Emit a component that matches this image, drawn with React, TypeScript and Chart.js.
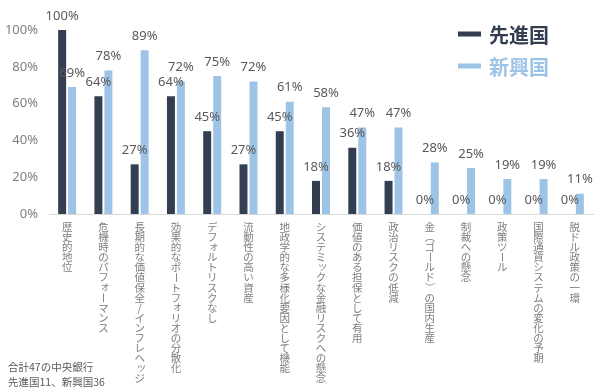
import React, { useEffect, useRef } from "react";
import { Chart, registerables } from "chart.js";

Chart.register(...registerables);

const categories: string[] = [
  "歴史的地位",
  "危機時のパフォーマンス",
  "長期的な価値保全/インフレヘッジ",
  "効果的なポートフォリオの分散化",
  "デフォルトリスクなし",
  "流動性の高い資産",
  "地政学的な多様化要因として機能",
  "システミックな金融リスクへの懸念",
  "価値のある担保として有用",
  "政治リスクの低減",
  "金（ゴールド）の国内生産",
  "制裁への懸念",
  "政策ツール",
  "国際通貨システムの変化の予期",
  "脱ドル政策の一環",
];

const advanced: number[] = [100, 64, 27, 64, 45, 27, 45, 18, 36, 18, 0, 0, 0, 0, 0];
const emerging: number[] = [69, 78, 89, 72, 75, 72, 61, 58, 47, 47, 28, 25, 19, 19, 11];

const seriesNames: string[] = ["先進国", "新興国"];
const yTicks: number[] = [0, 20, 40, 60, 80, 100];
const footnote: string[] = ["合計47の中央銀行", "先進国11、新興国36"];

const DARK = "#333F50";
const LIGHT = "#9DC3E6";
const NUM_FONT = "'Noto Sans', 'Noto Sans CJK JP', sans-serif";
const JP_FONT = "'Noto Sans CJK JP', sans-serif";

const ROTATE_CHARS = new Set(["ー", "（", "）", "〜", "－"]);
const SMALL_KANA = new Set("ァィゥェォッャュョヮぁぃぅぇぉっゃゅょ".split(""));

const overlayPlugin = {
  id: "overlay",
  afterDatasetsDraw(chart: any) {
    const ctx = chart.ctx;
    ctx.save();
    // data labels
    ctx.font = `13px ${NUM_FONT}`;
    ctx.fillStyle = "#595959";
    ctx.textAlign = "center";
    ctx.textBaseline = "middle";
    chart.data.datasets.forEach((ds: any, di: number) => {
      const meta = chart.getDatasetMeta(di);
      meta.data.forEach((el: any, i: number) => {
        ctx.fillText(`${ds.data[i]}%`, el.x, el.y - 14);
      });
    });

    // vertical category labels
    const xs = chart.scales.x;
    const top = xs.top;
    ctx.font = `10.5px ${JP_FONT}`;
    ctx.fillStyle = "#7f7f7f";
    categories.forEach((label, i) => {
      const x = xs.getPixelForValue(i);
      const chars = Array.from(label);
      chars.forEach((ch, k) => {
        const y = top + 13 + k * 10.1;
        if (ROTATE_CHARS.has(ch)) {
          ctx.save();
          ctx.translate(x, y);
          ctx.rotate(Math.PI / 2);
          ctx.fillText(ch, 0, 0);
          ctx.restore();
        } else if (SMALL_KANA.has(ch)) {
          ctx.fillText(ch, x + 1.5, y - 1.5);
        } else {
          ctx.fillText(ch, x, y);
        }
      });
    });

    // legend
    const legendRows = [
      { name: seriesNames[0], color: DARK, y: 34 },
      { name: seriesNames[1], color: LIGHT, y: 66 },
    ];
    legendRows.forEach((r) => {
      ctx.fillStyle = r.color;
      ctx.fillRect(458, r.y - 2.5, 23, 5);
      ctx.font = `bold 20px ${JP_FONT}`;
      ctx.textAlign = "left";
      ctx.textBaseline = "middle";
      ctx.fillText(r.name, 489, r.y + 1);
    });

    // footnote
    ctx.fillStyle = "#595959";
    ctx.font = `10.5px ${JP_FONT}`;
    ctx.textAlign = "left";
    footnote.forEach((line, i) => {
      ctx.fillText(line, 8, 367 + i * 15);
    });
    ctx.restore();
  },
};

export default function App() {
  const canvasRef = useRef<HTMLCanvasElement | null>(null);

  useEffect(() => {
    document.body.style.margin = "0";
    const canvas = canvasRef.current;
    if (!canvas) return;
    const chart = new Chart(canvas, {
      type: "bar",
      data: {
        labels: categories,
        datasets: [
          {
            label: seriesNames[0],
            data: advanced,
            backgroundColor: DARK,
            categoryPercentage: 0.55,
            barPercentage: 0.8,
          },
          {
            label: seriesNames[1],
            data: emerging,
            backgroundColor: LIGHT,
            categoryPercentage: 0.55,
            barPercentage: 0.8,
          },
        ],
      },
      options: {
        responsive: false,
        animation: false,
        devicePixelRatio: 1,
        layout: { padding: { top: 30, right: 7, left: 0, bottom: 0 } },
        plugins: {
          legend: { display: false },
          tooltip: { enabled: false },
        },
        scales: {
          x: {
            grid: { display: false },
            border: { display: true, color: "#d9d9d9", width: 1 },
            ticks: { display: false },
            afterFit: (scale: any) => {
              scale.height = 175;
            },
          },
          y: {
            min: 0,
            max: 100,
            afterBuildTicks: (scale: any) => {
              scale.ticks = yTicks.map((v) => ({ value: v }));
            },
            grid: { display: false, drawTicks: false },
            border: { display: false },
            ticks: {
              padding: 11,
              color: "#7f7f7f",
              font: { family: NUM_FONT, size: 13 },
              callback: (v: any) => `${v}%`,
            },
            afterFit: (scale: any) => {
              scale.width = 49;
            },
          },
        },
      },
      plugins: [overlayPlugin],
    });
    return () => chart.destroy();
  }, []);

  return (
    <div style={{ width: 600, height: 389, background: "#fff" }}>
      <canvas ref={canvasRef} width={600} height={389} />
    </div>
  );
}
